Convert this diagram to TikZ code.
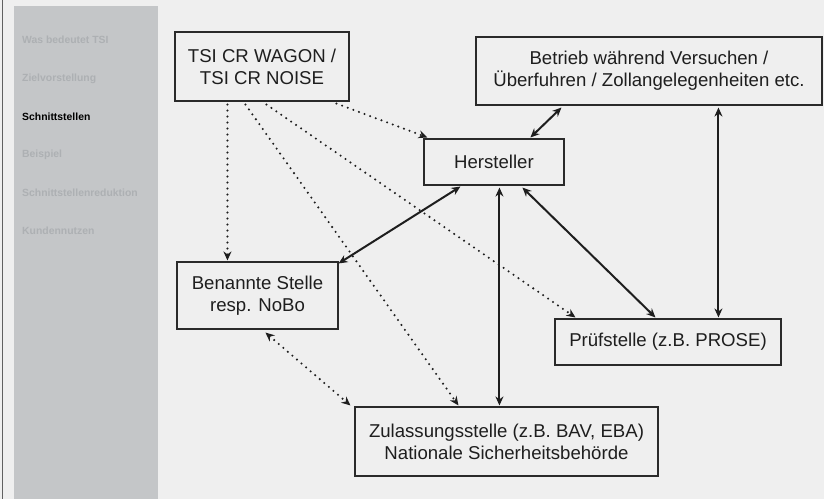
\documentclass[tikz,border=0pt]{standalone}
\usepackage{fontspec}
\setmainfont{Liberation Sans}
\usetikzlibrary{arrows.meta}
\definecolor{bg}{HTML}{EFEFEF}
\definecolor{side}{HTML}{C4C6C8}
\definecolor{sidetext}{HTML}{ADB0B3}
\definecolor{ink}{HTML}{1E1E1E}
\definecolor{frame}{HTML}{2A2A2A}
\tikzset{
  box/.style={draw=frame, line width=1.1pt, rectangle, inner sep=0pt, align=center,
    text=ink, font=\fontsize{18.6}{22}\selectfont},
  menu/.style={anchor=west, inner sep=0pt, font=\fontsize{10.4}{12}\selectfont\bfseries, text=sidetext},
  tip/.tip={Stealth[length=9pt,width=8pt]},
  solidarrow/.style={draw=ink, line width=2pt, tip-tip},
  dotarrow/.style={draw=ink, line width=2.3pt, line cap=round, dash pattern=on 0pt off 6pt, -tip},
  dotboth/.style={dotarrow, tip-tip}
}
\begin{document}
\begin{tikzpicture}[x=1pt,y=-1pt]
\fill[bg] (0,0) rectangle (824,499);
\useasboundingbox (0,0) rectangle (824,499);
\draw[ink!70, line width=1pt] (2.5,0) -- (2.5,499);
\fill[side] (14,6) rectangle (158,499);
\node[menu] (m1) at (22,40) {Was bedeutet TSI};
\node[menu] (m2) at (22,79) {Zielvorstellung};
\node[menu, text=black] (m3) at (22,117) {Schnittstellen};
\node[menu] (m4) at (22,155) {Beispiel};
\node[menu] (m5) at (22,193) {Schnittstellenreduktion};
\node[menu] (m6) at (22,231) {Kundennutzen};

\node[box, minimum width=174pt, minimum height=69pt] (tsi) at (262,66.5) {TSI CR WAGON /\\TSI CR NOISE};
\node[box, minimum width=140pt, minimum height=46pt] (her) at (494,162) {Hersteller};
\node[box, minimum width=346pt, minimum height=68pt] (bet) at (649,71) {Betrieb während Versuchen /\\Überfuhren / Zollangelegenheiten etc.};
\node[box, minimum width=161pt, minimum height=67pt] (ben) at (257.5,295.5) {Benannte Stelle\\resp. NoBo};
\node[box, minimum width=303pt, minimum height=69pt] (zul) at (506.5,441.5) {Zulassungsstelle (z.B. BAV, EBA)\\Nationale Sicherheitsbehörde};
\node[box, minimum width=226pt, minimum height=46pt] (pru) at (668,342) {Prüfstelle (z.B. PROSE)};

% dotted from TSI
\draw[dotarrow] ([xshift=53pt,yshift=-3pt]tsi.south west) -- ([xshift=51pt,yshift=1pt]ben.north west);
\draw[dotarrow] ([xshift=71pt,yshift=-3pt]tsi.south west) -- ([xshift=104pt,yshift=1pt]zul.north west);
\draw[dotarrow] ([xshift=92pt,yshift=-3pt]tsi.south west) -- ([xshift=21pt,yshift=1pt]pru.north west);
\draw[dotarrow] ([xshift=162pt,yshift=-2pt]tsi.south west) -- ([xshift=4pt,yshift=1pt]her.north west);
\draw[dotboth] ([xshift=89pt,yshift=-3pt]ben.south west) -- ([xshift=-4pt,yshift=1pt]zul.north west);

% solid
\draw[solidarrow] ([xshift=107pt,yshift=1pt]her.north west) -- ([xshift=86pt,yshift=-2pt]bet.south west);
\draw[solidarrow] ([xshift=37pt,yshift=-1pt]her.south west) -- ([yshift=-2pt]ben.north east);
\draw[solidarrow] ([xshift=76pt,yshift=-2pt]her.south west) -- ([xshift=145pt,yshift=1pt]zul.north west);
\draw[solidarrow] ([xshift=99pt,yshift=-2pt]her.south west) -- ([xshift=101pt,yshift=1pt]pru.north west);
\draw[solidarrow] ([xshift=243pt,yshift=-2pt]bet.south west) -- ([xshift=164pt,yshift=1pt]pru.north west);
\end{tikzpicture}
\end{document}
